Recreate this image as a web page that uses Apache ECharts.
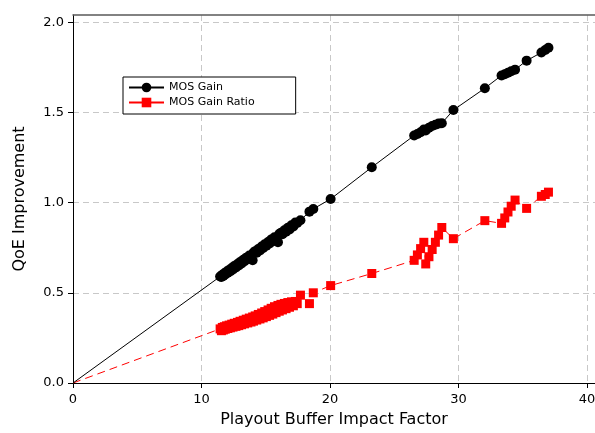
<!DOCTYPE html>
<html>
<head>
<meta charset="utf-8">
<script src="https://cdn.jsdelivr.net/npm/echarts@6/dist/echarts.min.js"></script>
<style>
  html, body { margin: 0; padding: 0; background: #fff; overflow: hidden; }
  #chart { width: 595px; height: 433px; }
</style>
</head>
<body>
<div id="chart"></div>
<script>
// Playout buffer impact factor (shared x values; first entry is the origin anchor)
const impactFactor = [
  0,
  11.45, 11.55, 11.62, 11.70, 11.78, 11.85, 11.95, 12.05, 12.15, 12.25,
  12.35, 12.45, 12.55, 12.68, 12.80, 12.90, 13.00, 13.12, 13.25, 13.35,
  13.48, 13.60, 13.72, 13.85, 13.98, 14.05, 14.18, 14.30, 14.42, 14.55,
  14.68, 14.80, 14.92, 15.05, 15.18, 15.30, 15.42, 15.55, 15.68, 15.80,
  15.95, 16.05, 16.18, 16.30, 16.45, 16.58, 16.72, 16.85, 17.00, 17.15,
  17.30, 17.45, 17.70, 18.40, 18.70, 20.05, 23.25,
  26.55, 26.80, 27.05, 27.30, 27.45, 27.70, 27.95, 28.20, 28.45, 28.70,
  29.60, 32.05, 33.35, 33.60, 33.85, 34.10, 34.40, 35.30, 36.45, 36.75, 37.00
];

// MOS gain for each impact factor
const mosGain = [
  0,
  0.590, 0.588, 0.600, 0.594, 0.608, 0.601, 0.617, 0.611, 0.627, 0.619,
  0.637, 0.629, 0.648, 0.641, 0.660, 0.652, 0.671, 0.663, 0.683, 0.675,
  0.695, 0.687, 0.707, 0.699, 0.680, 0.723, 0.731, 0.722, 0.743, 0.735,
  0.757, 0.749, 0.769, 0.761, 0.782, 0.773, 0.795, 0.786, 0.808, 0.800,
  0.780, 0.826, 0.833, 0.825, 0.847, 0.838, 0.861, 0.851, 0.874, 0.868,
  0.890, 0.887, 0.902, 0.950, 0.965, 1.020, 1.196,
  1.372, 1.380, 1.390, 1.405, 1.400, 1.415, 1.425, 1.432, 1.438, 1.440,
  1.513, 1.634, 1.705, 1.712, 1.720, 1.728, 1.737, 1.787, 1.832, 1.846, 1.858
];

// MOS gain ratio for each impact factor
const mosGainRatio = [
  0,
  0.300, 0.290, 0.308, 0.294, 0.312, 0.298, 0.317, 0.302, 0.321, 0.306,
  0.326, 0.310, 0.331, 0.314, 0.336, 0.318, 0.342, 0.323, 0.348, 0.328,
  0.354, 0.333, 0.360, 0.338, 0.366, 0.343, 0.372, 0.349, 0.380, 0.355,
  0.388, 0.361, 0.396, 0.368, 0.405, 0.375, 0.414, 0.382, 0.423, 0.390,
  0.430, 0.398, 0.436, 0.405, 0.441, 0.412, 0.446, 0.420, 0.450, 0.428,
  0.452, 0.440, 0.487, 0.440, 0.500, 0.540, 0.607,
  0.680, 0.710, 0.745, 0.780, 0.660, 0.700, 0.740, 0.780, 0.820, 0.862,
  0.800, 0.900, 0.885, 0.915, 0.948, 0.980, 1.014, 0.968, 1.035, 1.045, 1.058
];

const xTickLabels = [0, 10, 20, 30, 40];
const yTickLabels = [0, 0.5, 1.0, 1.5, 2.0];

const FONT = 'DejaVu Sans';

function toSeriesData(ys) {
  return impactFactor.map((x, i) => {
    const item = { value: [x, ys[i]] };
    if (i === 0) item.symbol = 'none';
    return item;
  });
}

const chart = echarts.init(document.getElementById('chart'), null, { renderer: 'canvas' });

chart.setOption({
  animation: false,
  backgroundColor: '#fff',
  // the plot frame runs past the right edge of the canvas
  grid: { left: 73, top: 15, width: 532, height: 368, outerBoundsMode: 'none' },
  legend: {
    orient: 'vertical',
    left: 123,
    top: 77,
    padding: [5, 41, 6, 5],
    itemWidth: 35,
    itemHeight: 12,
    itemGap: 4,
    backgroundColor: '#fff',
    borderColor: '#000',
    borderWidth: 1,
    textStyle: { fontFamily: FONT, fontSize: 11, color: '#000' },
    data: [
      { name: 'MOS Gain' },
      { name: 'MOS Gain Ratio', lineStyle: { type: 'solid' } }
    ]
  },
  xAxis: [
    {
      type: 'value',
      min: 0,
      max: 41.4,
      interval: 5,
      position: 'bottom',
      name: 'Playout Buffer Impact Factor',
      nameLocation: 'middle',
      nameGap: 29,
      nameTextStyle: { fontFamily: FONT, fontSize: 16, color: '#000', padding: [0, 10, 0, 0] },
      axisLine: { show: true, onZero: false, lineStyle: { color: '#000', width: 1 } },
      axisTick: { show: true, length: 5, customValues: xTickLabels, lineStyle: { color: '#000' } },
      axisLabel: {
        customValues: xTickLabels,
        margin: 10,
        fontFamily: FONT, fontSize: 13, color: '#000',
        formatter: v => String(v)
      },
      splitLine: { show: true, lineStyle: { color: '#c8c8c8', type: [6, 4], width: 1 } }
    },
    {
      type: 'value',
      min: 0,
      max: 41.4,
      position: 'top',
      axisLine: { show: true, onZero: false, lineStyle: { color: '#5a5a5a', width: 1.5 } },
      axisTick: { show: false },
      axisLabel: { show: false },
      splitLine: { show: false }
    }
  ],
  yAxis: {
    type: 'value',
    min: 0,
    max: 2.04,
    interval: 0.25,
    name: 'QoE Improvement',
    nameLocation: 'middle',
    nameGap: 45,
    nameTextStyle: { fontFamily: FONT, fontSize: 16, color: '#000' },
    axisLine: { show: true, onZero: false, lineStyle: { color: '#000', width: 1 } },
    axisTick: { show: true, length: 5, customValues: yTickLabels, lineStyle: { color: '#000' } },
    axisLabel: {
      customValues: yTickLabels,
      margin: 9,
      fontFamily: FONT, fontSize: 13, color: '#000',
      formatter: v => v.toFixed(1)
    },
    splitLine: { show: true, lineStyle: { color: '#c8c8c8', type: [6, 4], width: 1 } }
  },
  series: [
    {
      name: 'MOS Gain Ratio',
      type: 'line',
      xAxisIndex: 0,
      symbol: 'rect',
      symbolSize: 9,
      color: '#ff0000',
      itemStyle: { color: '#ff0000' },
      lineStyle: { color: '#ff0000', width: 1, type: [8, 5] },
      data: toSeriesData(mosGainRatio),
      z: 3
    },
    {
      name: 'MOS Gain',
      type: 'line',
      xAxisIndex: 0,
      symbol: 'circle',
      symbolSize: 10,
      color: '#000',
      itemStyle: { color: '#000' },
      lineStyle: { color: '#000', width: 1 },
      data: toSeriesData(mosGain),
      z: 4
    }
  ]
});
</script>
</body>
</html>
